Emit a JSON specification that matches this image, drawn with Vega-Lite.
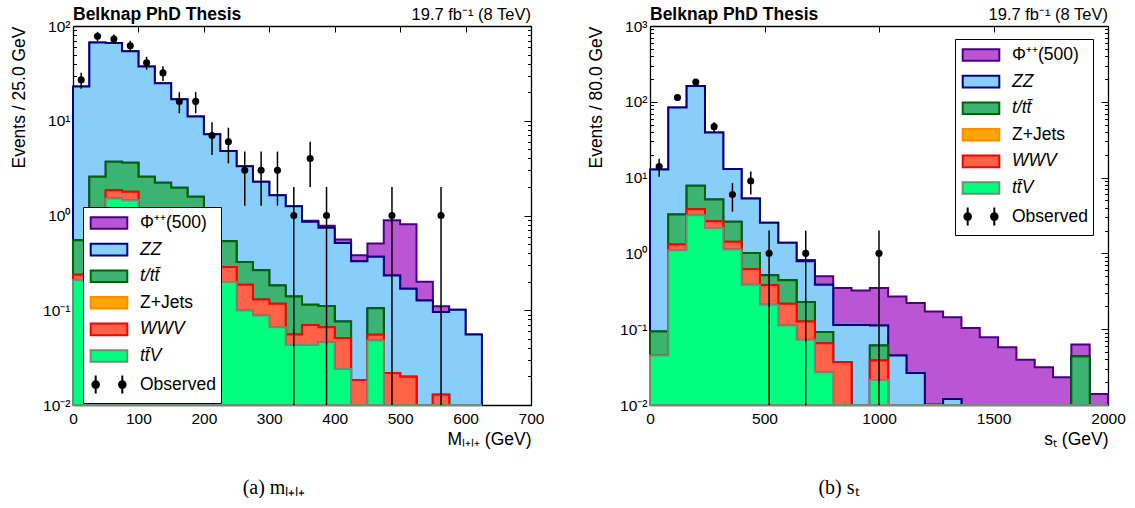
{
  "$schema": "https://vega.github.io/schema/vega-lite/v6.json",
  "background": "white",
  "padding": {"left": 10, "top": 6, "right": 0, "bottom": 0},
  "autosize": {"type": "pad"},
  "spacing": 119,
  "bounds": "flush",
  "config": {
    "view": {"stroke": null},
    "font": "Liberation Sans",
    "axis": {"domainColor": "black", "domainWidth": 1.3, "tickColor": "black", "tickWidth": 1, "labelColor": "black", "labelFont": "Liberation Sans", "labelFontSize": 15.5, "titleFont": "Liberation Sans", "titleFontSize": 17.5, "titleFontWeight": "normal", "titleColor": "black", "grid": false, "zindex": 1, "labelOverlap": false, "labelFlush": false}
  },
  "resolve": {"scale": {"fill": "independent", "stroke": "independent", "shape": "independent"}, "legend": {"fill": "independent", "stroke": "independent", "shape": "independent"}},
  "datasets": {
    "a_mc": [
      {"p":"ttv","lo":0,"hi":25,"v":0.207},{"p":"ttv","lo":25,"hi":50,"v":0.5},{"p":"ttv","lo":50,"hi":75,"v":1.51},{"p":"ttv","lo":75,"hi":100,"v":1.45},{"p":"ttv","lo":100,"hi":125,"v":0.65},{"p":"ttv","lo":125,"hi":150,"v":0.55},{"p":"ttv","lo":150,"hi":175,"v":0.45},{"p":"ttv","lo":175,"hi":200,"v":0.4},{"p":"ttv","lo":200,"hi":225,"v":0.3},{"p":"ttv","lo":225,"hi":250,"v":0.199},{"p":"ttv","lo":250,"hi":275,"v":0.0996},{"p":"ttv","lo":275,"hi":300,"v":0.088},{"p":"ttv","lo":300,"hi":325,"v":0.066},{"p":"ttv","lo":325,"hi":350,"v":0.043},{"p":"ttv","lo":350,"hi":375,"v":0.043},{"p":"ttv","lo":375,"hi":400,"v":0.046},{"p":"ttv","lo":400,"hi":425,"v":0.024},{"p":"ttv","lo":425,"hi":450,"v":0},{"p":"ttv","lo":450,"hi":475,"v":0.048},{"p":"ttv","lo":475,"hi":500,"v":0},{"p":"ttv","lo":500,"hi":525,"v":0},{"p":"ttv","lo":525,"hi":550,"v":0},{"p":"ttv","lo":550,"hi":575,"v":0},{"p":"ttv","lo":575,"hi":600,"v":0},{"p":"ttv","lo":600,"hi":625,"v":0},
      {"p":"wwv","lo":0,"hi":25,"v":0.03},{"p":"wwv","lo":25,"hi":50,"v":0.1},{"p":"wwv","lo":50,"hi":75,"v":0.34},{"p":"wwv","lo":75,"hi":100,"v":0.33},{"p":"wwv","lo":100,"hi":125,"v":0.08},{"p":"wwv","lo":125,"hi":150,"v":0.1},{"p":"wwv","lo":150,"hi":175,"v":0.1},{"p":"wwv","lo":175,"hi":200,"v":0.1},{"p":"wwv","lo":200,"hi":225,"v":0.08},{"p":"wwv","lo":225,"hi":250,"v":0.087},{"p":"wwv","lo":250,"hi":275,"v":0.0864},{"p":"wwv","lo":275,"hi":300,"v":0.042},{"p":"wwv","lo":300,"hi":325,"v":0.051},{"p":"wwv","lo":325,"hi":350,"v":0.0125},{"p":"wwv","lo":350,"hi":375,"v":0.027},{"p":"wwv","lo":375,"hi":400,"v":0.02},{"p":"wwv","lo":400,"hi":425,"v":0.027},{"p":"wwv","lo":425,"hi":450,"v":0.0184},{"p":"wwv","lo":450,"hi":475,"v":0.007},{"p":"wwv","lo":475,"hi":500,"v":0.0218},{"p":"wwv","lo":500,"hi":525,"v":0.0199},{"p":"wwv","lo":525,"hi":550,"v":0},{"p":"wwv","lo":550,"hi":575,"v":0.0128},{"p":"wwv","lo":575,"hi":600,"v":0},{"p":"wwv","lo":600,"hi":625,"v":0},
      {"p":"tt","lo":0,"hi":25,"v":0.311},{"p":"tt","lo":25,"hi":50,"v":1.97},{"p":"tt","lo":50,"hi":75,"v":1.85},{"p":"tt","lo":75,"hi":100,"v":1.83},{"p":"tt","lo":100,"hi":125,"v":1.84},{"p":"tt","lo":125,"hi":150,"v":1.57},{"p":"tt","lo":150,"hi":175,"v":1.41},{"p":"tt","lo":175,"hi":200,"v":1.08},{"p":"tt","lo":200,"hi":225,"v":0.52},{"p":"tt","lo":225,"hi":250,"v":0.249},{"p":"tt","lo":250,"hi":275,"v":0.138},{"p":"tt","lo":275,"hi":300,"v":0.134},{"p":"tt","lo":300,"hi":325,"v":0.066},{"p":"tt","lo":325,"hi":350,"v":0.0845},{"p":"tt","lo":350,"hi":375,"v":0.044},{"p":"tt","lo":375,"hi":400,"v":0.045},{"p":"tt","lo":400,"hi":425,"v":0.025},{"p":"tt","lo":425,"hi":450,"v":0},{"p":"tt","lo":450,"hi":475,"v":0.05},{"p":"tt","lo":475,"hi":500,"v":0},{"p":"tt","lo":500,"hi":525,"v":0},{"p":"tt","lo":525,"hi":550,"v":0},{"p":"tt","lo":550,"hi":575,"v":0},{"p":"tt","lo":575,"hi":600,"v":0},{"p":"tt","lo":600,"hi":625,"v":0},
      {"p":"zz","lo":0,"hi":25,"v":22.45},{"p":"zz","lo":25,"hi":50,"v":64.4},{"p":"zz","lo":50,"hi":75,"v":62.3},{"p":"zz","lo":75,"hi":100,"v":50.4},{"p":"zz","lo":100,"hi":125,"v":34.8},{"p":"zz","lo":125,"hi":150,"v":22.7},{"p":"zz","lo":150,"hi":175,"v":14.9},{"p":"zz","lo":175,"hi":200,"v":9.52},{"p":"zz","lo":200,"hi":225,"v":6.3},{"p":"zz","lo":225,"hi":250,"v":4.265},{"p":"zz","lo":250,"hi":275,"v":2.976},{"p":"zz","lo":275,"hi":300,"v":2.006},{"p":"zz","lo":300,"hi":325,"v":1.457},{"p":"zz","lo":325,"hi":350,"v":1.11},{"p":"zz","lo":350,"hi":375,"v":0.743},{"p":"zz","lo":375,"hi":400,"v":0.63},{"p":"zz","lo":400,"hi":425,"v":0.438},{"p":"zz","lo":425,"hi":450,"v":0.3106},{"p":"zz","lo":450,"hi":475,"v":0.261},{"p":"zz","lo":475,"hi":500,"v":0.211},{"p":"zz","lo":500,"hi":525,"v":0.149},{"p":"zz","lo":525,"hi":550,"v":0.127},{"p":"zz","lo":550,"hi":575,"v":0.0829},{"p":"zz","lo":575,"hi":600,"v":0.101},{"p":"zz","lo":600,"hi":625,"v":0.0555},
      {"p":"phi","lo":0,"hi":25,"v":0},{"p":"phi","lo":25,"hi":50,"v":0},{"p":"phi","lo":50,"hi":75,"v":0},{"p":"phi","lo":75,"hi":100,"v":0},{"p":"phi","lo":100,"hi":125,"v":0},{"p":"phi","lo":125,"hi":150,"v":0},{"p":"phi","lo":150,"hi":175,"v":0},{"p":"phi","lo":175,"hi":200,"v":0},{"p":"phi","lo":200,"hi":225,"v":0},{"p":"phi","lo":225,"hi":250,"v":0},{"p":"phi","lo":250,"hi":275,"v":0},{"p":"phi","lo":275,"hi":300,"v":0},{"p":"phi","lo":300,"hi":325,"v":0},{"p":"phi","lo":325,"hi":350,"v":0},{"p":"phi","lo":350,"hi":375,"v":0.023},{"p":"phi","lo":375,"hi":400,"v":0.037},{"p":"phi","lo":400,"hi":425,"v":0.043},{"p":"phi","lo":425,"hi":450,"v":0.051},{"p":"phi","lo":450,"hi":475,"v":0.139},{"p":"phi","lo":475,"hi":500,"v":0.66},{"p":"phi","lo":500,"hi":525,"v":0.641},{"p":"phi","lo":525,"hi":550,"v":0.073},{"p":"phi","lo":550,"hi":575,"v":0.0143},{"p":"phi","lo":575,"hi":600,"v":0},{"p":"phi","lo":600,"hi":625,"v":0}
    ],
    "a_obs": [
      {"x":12.5,"n":27,"lo":21.8,"hi":32.2},{"x":37.5,"n":78,"lo":69.2,"hi":86.8},{"x":62.5,"n":73,"lo":64.5,"hi":81.5},{"x":87.5,"n":62,"lo":54.1,"hi":69.9},{"x":112.5,"n":41,"lo":34.6,"hi":47.4},{"x":137.5,"n":32,"lo":26.3,"hi":37.7},{"x":162.5,"n":16,"lo":12,"hi":20},{"x":187.5,"n":16,"lo":12,"hi":20},{"x":212.5,"n":7,"lo":4.35,"hi":9.65},{"x":237.5,"n":6,"lo":3.55,"hi":8.45},{"x":262.5,"n":3,"lo":1.27,"hi":4.73},{"x":287.5,"n":3,"lo":1.27,"hi":4.73},{"x":312.5,"n":3,"lo":1.27,"hi":4.73},{"x":337.5,"n":1,"lo":0,"hi":2},{"x":362.5,"n":4,"lo":2,"hi":6},{"x":387.5,"n":1,"lo":0,"hi":2},{"x":487.5,"n":1,"lo":0,"hi":2},{"x":562.5,"n":1,"lo":0,"hi":2}
    ],
    "b_mc": [
      {"p":"ttv","lo":0,"hi":80,"v":0.045},{"p":"ttv","lo":80,"hi":160,"v":1.1},{"p":"ttv","lo":160,"hi":240,"v":3.19},{"p":"ttv","lo":240,"hi":320,"v":2.17},{"p":"ttv","lo":320,"hi":400,"v":1.13},{"p":"ttv","lo":400,"hi":480,"v":0.387},{"p":"ttv","lo":480,"hi":560,"v":0.21},{"p":"ttv","lo":560,"hi":640,"v":0.112},{"p":"ttv","lo":640,"hi":720,"v":0.0724},{"p":"ttv","lo":720,"hi":800,"v":0.027},{"p":"ttv","lo":800,"hi":880,"v":0},{"p":"ttv","lo":880,"hi":960,"v":0},{"p":"ttv","lo":960,"hi":1040,"v":0.0214},{"p":"ttv","lo":1040,"hi":1120,"v":0},{"p":"ttv","lo":1120,"hi":1200,"v":0},{"p":"ttv","lo":1200,"hi":1280,"v":0},{"p":"ttv","lo":1280,"hi":1360,"v":0},{"p":"ttv","lo":1360,"hi":1440,"v":0},{"p":"ttv","lo":1440,"hi":1520,"v":0},{"p":"ttv","lo":1520,"hi":1600,"v":0},{"p":"ttv","lo":1600,"hi":1680,"v":0},{"p":"ttv","lo":1680,"hi":1760,"v":0},{"p":"ttv","lo":1760,"hi":1840,"v":0},{"p":"ttv","lo":1840,"hi":1920,"v":0},{"p":"ttv","lo":1920,"hi":2000,"v":0},
      {"p":"wwv","lo":0,"hi":80,"v":0},{"p":"wwv","lo":80,"hi":160,"v":0.21},{"p":"wwv","lo":160,"hi":240,"v":0.64},{"p":"wwv","lo":240,"hi":320,"v":0.49},{"p":"wwv","lo":320,"hi":400,"v":0.29},{"p":"wwv","lo":400,"hi":480,"v":0.229},{"p":"wwv","lo":480,"hi":560,"v":0.169},{"p":"wwv","lo":560,"hi":640,"v":0.105},{"p":"wwv","lo":640,"hi":720,"v":0.0536},{"p":"wwv","lo":720,"hi":800,"v":0.0385},{"p":"wwv","lo":800,"hi":880,"v":0.037},{"p":"wwv","lo":880,"hi":960,"v":0},{"p":"wwv","lo":960,"hi":1040,"v":0.0172},{"p":"wwv","lo":1040,"hi":1120,"v":0},{"p":"wwv","lo":1120,"hi":1200,"v":0},{"p":"wwv","lo":1200,"hi":1280,"v":0},{"p":"wwv","lo":1280,"hi":1360,"v":0},{"p":"wwv","lo":1360,"hi":1440,"v":0},{"p":"wwv","lo":1440,"hi":1520,"v":0},{"p":"wwv","lo":1520,"hi":1600,"v":0},{"p":"wwv","lo":1600,"hi":1680,"v":0},{"p":"wwv","lo":1680,"hi":1760,"v":0},{"p":"wwv","lo":1760,"hi":1840,"v":0},{"p":"wwv","lo":1840,"hi":1920,"v":0},{"p":"wwv","lo":1920,"hi":2000,"v":0},
      {"p":"tt","lo":0,"hi":80,"v":0.048},{"p":"tt","lo":80,"hi":160,"v":1.96},{"p":"tt","lo":160,"hi":240,"v":3.97},{"p":"tt","lo":240,"hi":320,"v":2.49},{"p":"tt","lo":320,"hi":400,"v":1.19},{"p":"tt","lo":400,"hi":480,"v":0.394},{"p":"tt","lo":480,"hi":560,"v":0.135},{"p":"tt","lo":560,"hi":640,"v":0.224},{"p":"tt","lo":640,"hi":720,"v":0.102},{"p":"tt","lo":720,"hi":800,"v":0.026},{"p":"tt","lo":800,"hi":880,"v":0},{"p":"tt","lo":880,"hi":960,"v":0},{"p":"tt","lo":960,"hi":1040,"v":0.0224},{"p":"tt","lo":1040,"hi":1120,"v":0},{"p":"tt","lo":1120,"hi":1200,"v":0},{"p":"tt","lo":1200,"hi":1280,"v":0},{"p":"tt","lo":1280,"hi":1360,"v":0},{"p":"tt","lo":1360,"hi":1440,"v":0},{"p":"tt","lo":1440,"hi":1520,"v":0},{"p":"tt","lo":1520,"hi":1600,"v":0},{"p":"tt","lo":1600,"hi":1680,"v":0},{"p":"tt","lo":1680,"hi":1760,"v":0},{"p":"tt","lo":1760,"hi":1840,"v":0},{"p":"tt","lo":1840,"hi":1920,"v":0.0435},{"p":"tt","lo":1920,"hi":2000,"v":0},
      {"p":"zz","lo":0,"hi":80,"v":12.7},{"p":"zz","lo":80,"hi":160,"v":80.7},{"p":"zz","lo":160,"hi":240,"v":154.2},{"p":"zz","lo":240,"hi":320,"v":34.15},{"p":"zz","lo":320,"hi":400,"v":10.39},{"p":"zz","lo":400,"hi":480,"v":4.29},{"p":"zz","lo":480,"hi":560,"v":2.016},{"p":"zz","lo":560,"hi":640,"v":0.939},{"p":"zz","lo":640,"hi":720,"v":0.559},{"p":"zz","lo":720,"hi":800,"v":0.2955},{"p":"zz","lo":800,"hi":880,"v":0.077},{"p":"zz","lo":880,"hi":960,"v":0.114},{"p":"zz","lo":960,"hi":1040,"v":0.051},{"p":"zz","lo":1040,"hi":1120,"v":0.045},{"p":"zz","lo":1120,"hi":1200,"v":0.0265},{"p":"zz","lo":1200,"hi":1280,"v":0.0101},{"p":"zz","lo":1280,"hi":1360,"v":0.012},{"p":"zz","lo":1360,"hi":1440,"v":0},{"p":"zz","lo":1440,"hi":1520,"v":0},{"p":"zz","lo":1520,"hi":1600,"v":0},{"p":"zz","lo":1600,"hi":1680,"v":0},{"p":"zz","lo":1680,"hi":1760,"v":0},{"p":"zz","lo":1760,"hi":1840,"v":0},{"p":"zz","lo":1840,"hi":1920,"v":0},{"p":"zz","lo":1920,"hi":2000,"v":0},
      {"p":"phi","lo":0,"hi":80,"v":0},{"p":"phi","lo":80,"hi":160,"v":0},{"p":"phi","lo":160,"hi":240,"v":0},{"p":"phi","lo":240,"hi":320,"v":0},{"p":"phi","lo":320,"hi":400,"v":0},{"p":"phi","lo":400,"hi":480,"v":0},{"p":"phi","lo":480,"hi":560,"v":0},{"p":"phi","lo":560,"hi":640,"v":0.005},{"p":"phi","lo":640,"hi":720,"v":0.033},{"p":"phi","lo":720,"hi":800,"v":0.111},{"p":"phi","lo":800,"hi":880,"v":0.235},{"p":"phi","lo":880,"hi":960,"v":0.211},{"p":"phi","lo":960,"hi":1040,"v":0.238},{"p":"phi","lo":1040,"hi":1120,"v":0.226},{"p":"phi","lo":1120,"hi":1200,"v":0.1945},{"p":"phi","lo":1200,"hi":1280,"v":0.161},{"p":"phi","lo":1280,"hi":1360,"v":0.132},{"p":"phi","lo":1360,"hi":1440,"v":0.104},{"p":"phi","lo":1440,"hi":1520,"v":0.0785},{"p":"phi","lo":1520,"hi":1600,"v":0.058},{"p":"phi","lo":1600,"hi":1680,"v":0.0394},{"p":"phi","lo":1680,"hi":1760,"v":0.0315},{"p":"phi","lo":1760,"hi":1840,"v":0.0232},{"p":"phi","lo":1840,"hi":1920,"v":0.0193},{"p":"phi","lo":1920,"hi":2000,"v":0.014}
    ],
    "b_obs": [
      {"x":40,"n":14,"lo":10.26,"hi":17.74},{"x":120,"n":114,"lo":103.3,"hi":124.7},{"x":200,"n":182,"lo":168.5,"hi":195.5},{"x":280,"n":47,"lo":40.1,"hi":53.9},{"x":360,"n":6,"lo":3.55,"hi":8.45},{"x":440,"n":9,"lo":6,"hi":12},{"x":520,"n":1,"lo":0,"hi":2},{"x":680,"n":1,"lo":0,"hi":2},{"x":1000,"n":1,"lo":0,"hi":2}
    ]
  },
  "hconcat": [
    {
      "width": 458, "height": 379,
      "data": {"name": "a_mc"},
      "transform": [
        {"stack": "v", "groupby": ["lo"], "as": ["y0", "y1"]},
        {"fold": ["lo", "hi"], "as": ["edge", "xe"]}
      ],
      "resolve": {"axis": {"x": "independent", "y": "independent"}},
      "title": {"text": "(a)  mₗ₊ₗ₊", "orient": "bottom", "anchor": "middle", "font": "Liberation Serif", "fontSize": 20, "fontWeight": "normal", "color": "black", "dx": -28, "offset": 30},
      "layer": [
        {
          "transform": [{"filter": "datum.p === 'phi'"}],
          "mark": {"type": "area", "fill": "#BA55D3", "stroke": "#4B0082", "strokeWidth": 2, "strokeJoin": "miter", "opacity": 1},
          "encoding": {
            "x": {"field": "xe", "type": "quantitative", "scale": {"domain": [0, 700], "nice": false, "zero": false},
                  "axis": {"orient": "bottom", "values": [0,100,200,300,400,500,600,700], "format": "d", "tickSize": -6, "labelPadding": 12, "title": "Mₗ₊ₗ₊ (GeV)", "titleAnchor": "end", "titlePadding": 4}},
            "y": {"field": "y1", "type": "quantitative", "scale": {"type": "log", "domain": [0.01, 100], "nice": false, "clamp": true},
                  "axis": {"orient": "left", "values": [0.01,0.02,0.03,0.04,0.05,0.06,0.07,0.08,0.09,0.1,0.2,0.3,0.4,0.5,0.6,0.7,0.8,0.9,1,2,3,4,5,6,7,8,9,10,20,30,40,50,60,70,80,90,100],
                           "labelExpr": "datum.value == 1000 ? '10³' : datum.value == 100 ? '10²' : datum.value == 10 ? '10¹' : datum.value == 1 ? '10⁰' : datum.value == 0.1 ? '10⁻¹' : datum.value == 0.01 ? '10⁻²' : ''",
                           "tickSize": {"condition": {"test": "indexof([0.01,0.1,1,10,100,1000], datum.value) >= 0", "value": -7}, "value": -3.5},
                           "labelPadding": 10, "title": "Events / 25.0 GeV", "titleAnchor": "end", "titlePadding": 14}},
            "y2": {"field": "y0"},
            "order": [{"field": "xe", "type": "quantitative"}, {"field": "edge", "type": "nominal"}]
          }
        },
        {
          "transform": [{"filter": "datum.p === 'zz'"}],
          "mark": {"type": "area", "fill": "#87CEFA", "stroke": "#000080", "strokeWidth": 2, "strokeJoin": "miter", "opacity": 1},
          "encoding": {"x": {"field": "xe", "type": "quantitative", "axis": null}, "y": {"field": "y1", "type": "quantitative", "axis": null}, "y2": {"field": "y0"}, "order": [{"field": "xe", "type": "quantitative"}, {"field": "edge", "type": "nominal"}]}
        },
        {
          "transform": [{"filter": "datum.p === 'tt'"}],
          "mark": {"type": "area", "fill": "#3CB371", "stroke": "#006400", "strokeWidth": 2, "strokeJoin": "miter", "opacity": 1},
          "encoding": {"x": {"field": "xe", "type": "quantitative", "axis": null}, "y": {"field": "y1", "type": "quantitative", "axis": null}, "y2": {"field": "y0"}, "order": [{"field": "xe", "type": "quantitative"}, {"field": "edge", "type": "nominal"}]}
        },
        {
          "transform": [{"filter": "datum.p === 'wwv'"}],
          "mark": {"type": "area", "fill": "#FF6347", "stroke": "#FF0000", "strokeWidth": 2, "strokeJoin": "miter", "opacity": 1},
          "encoding": {"x": {"field": "xe", "type": "quantitative", "axis": null}, "y": {"field": "y1", "type": "quantitative", "axis": null}, "y2": {"field": "y0"}, "order": [{"field": "xe", "type": "quantitative"}, {"field": "edge", "type": "nominal"}]}
        },
        {
          "transform": [{"filter": "datum.p === 'ttv'"}],
          "mark": {"type": "area", "fill": "#00FF7F", "stroke": "#6F8F74", "strokeWidth": 2, "strokeJoin": "miter", "opacity": 1},
          "encoding": {"x": {"field": "xe", "type": "quantitative", "axis": null}, "y": {"field": "y1", "type": "quantitative", "axis": null}, "y2": {"field": "y0"}, "order": [{"field": "xe", "type": "quantitative"}, {"field": "edge", "type": "nominal"}]}
        },
        {
          "data": {"name": "a_obs"},
          "mark": {"type": "rule", "color": "black", "strokeWidth": 1.5},
          "encoding": {"x": {"field": "x", "type": "quantitative", "axis": null}, "y": {"field": "lo", "type": "quantitative", "axis": null}, "y2": {"field": "hi"}}
        },
        {
          "data": {"name": "a_obs"},
          "mark": {"type": "point", "filled": true, "color": "black", "size": 50, "opacity": 1},
          "encoding": {"x": {"field": "x", "type": "quantitative", "axis": null}, "y": {"field": "n", "type": "quantitative", "axis": null}}
        },
        {
          "mark": {"type": "point", "filled": true, "strokeWidth": 2, "opacity": 1},
          "encoding": {
            "x": {"field": "none", "type": "quantitative", "axis": {"orient": "top", "values": [0,100,200,300,400,500,600,700], "labels": false, "tickSize": -6, "title": null}},
            "y": {"field": "none", "type": "quantitative", "axis": {"orient": "right", "values": [0.01,0.02,0.03,0.04,0.05,0.06,0.07,0.08,0.09,0.1,0.2,0.3,0.4,0.5,0.6,0.7,0.8,0.9,1,2,3,4,5,6,7,8,9,10,20,30,40,50,60,70,80,90,100], "labels": false, "tickSize": {"condition": {"test": "indexof([0.01,0.1,1,10,100,1000], datum.value) >= 0", "value": -7}, "value": -3.5}, "title": null}},
            "fill": {"field": "p", "type": "nominal", "scale": {"domain": ["phi","zz","tt","zj","wwv","ttv","obs"], "range": ["#BA55D3","#87CEFA","#3CB371","#FFA500","#FF6347","#00FF7F","#000000"]},
                     "legend": {"title": null, "orient": "none", "legendX": 10, "legendY": 181, "padding": 5, "fillColor": "white", "strokeColor": "black", "cornerRadius": 0, "symbolSize": 400, "symbolOffset": 10, "labelOffset": 20, "rowPadding": 5.6, "labelFont": "Liberation Sans", "labelFontSize": 17.5, "labelColor": "black", "labelLimit": 300, "symbolStrokeWidth": 2,
                                "labelExpr": "datum.value == 'phi' ? 'Φ⁺⁺(500)' : datum.value == 'zz' ? 'ZZ' : datum.value == 'tt' ? 't/tt̄' : datum.value == 'zj' ? 'Z+Jets' : datum.value == 'wwv' ? 'WWV' : datum.value == 'ttv' ? 'tt̄V' : 'Observed'",
                                "encoding": {"labels": {"fontStyle": {"condition": {"test": "indexof(['zz','tt','wwv','ttv'], datum.value) >= 0", "value": "italic"}, "value": "normal"}}}}},
            "stroke": {"field": "p", "type": "nominal", "scale": {"domain": ["phi","zz","tt","zj","wwv","ttv","obs"], "range": ["#4B0082","#000080","#006400","#FF8C00","#FF0000","#6F8F74","#000000"]},
                     "legend": {"title": null, "orient": "none", "legendX": 10, "legendY": 181, "padding": 5, "fillColor": "white", "strokeColor": "black", "cornerRadius": 0, "symbolSize": 400, "symbolOffset": 10, "labelOffset": 20, "rowPadding": 5.6, "labelFont": "Liberation Sans", "labelFontSize": 17.5, "labelColor": "black", "labelLimit": 300, "symbolStrokeWidth": 2,
                                "labelExpr": "datum.value == 'phi' ? 'Φ⁺⁺(500)' : datum.value == 'zz' ? 'ZZ' : datum.value == 'tt' ? 't/tt̄' : datum.value == 'zj' ? 'Z+Jets' : datum.value == 'wwv' ? 'WWV' : datum.value == 'ttv' ? 'tt̄V' : 'Observed'",
                                "encoding": {"labels": {"fontStyle": {"condition": {"test": "indexof(['zz','tt','wwv','ttv'], datum.value) >= 0", "value": "italic"}, "value": "normal"}}}}},
            "shape": {"field": "p", "type": "nominal", "scale": {"domain": ["phi","zz","tt","zj","wwv","ttv","obs"], "range": ["M-1.83,-0.58H1.83V0.58H-1.83Z","M-1.83,-0.58H1.83V0.58H-1.83Z","M-1.83,-0.58H1.83V0.58H-1.83Z","M-1.83,-0.58H1.83V0.58H-1.83Z","M-1.83,-0.58H1.83V0.58H-1.83Z","M-1.83,-0.58H1.83V0.58H-1.83Z","M-1.33,-0.9V0.9M1.33,-0.9V0.9M-1.0,0A0.33,0.33,0,1,1,-1.66,0A0.33,0.33,0,1,1,-1.0,0ZM1.66,0A0.33,0.33,0,1,1,1.0,0A0.33,0.33,0,1,1,1.66,0Z"]},
                     "legend": {"title": null, "orient": "none", "legendX": 10, "legendY": 181, "padding": 5, "fillColor": "white", "strokeColor": "black", "cornerRadius": 0, "symbolSize": 400, "symbolOffset": 10, "labelOffset": 20, "rowPadding": 5.6, "labelFont": "Liberation Sans", "labelFontSize": 17.5, "labelColor": "black", "labelLimit": 300, "symbolStrokeWidth": 2,
                                "labelExpr": "datum.value == 'phi' ? 'Φ⁺⁺(500)' : datum.value == 'zz' ? 'ZZ' : datum.value == 'tt' ? 't/tt̄' : datum.value == 'zj' ? 'Z+Jets' : datum.value == 'wwv' ? 'WWV' : datum.value == 'ttv' ? 'tt̄V' : 'Observed'",
                                "encoding": {"labels": {"fontStyle": {"condition": {"test": "indexof(['zz','tt','wwv','ttv'], datum.value) >= 0", "value": "italic"}, "value": "normal"}}}}}
          }
        },
        {
          "data": {"values": [{"t": "Belknap PhD Thesis"}]},
          "mark": {"type": "text", "align": "left", "baseline": "alphabetic", "dy": -6, "font": "Liberation Sans", "fontSize": 17.5, "fontWeight": "bold", "color": "black"},
          "encoding": {"x": {"datum": 0, "type": "quantitative", "axis": null}, "y": {"datum": 100, "type": "quantitative", "axis": null}, "text": {"field": "t"}}
        },
        {
          "data": {"values": [{"t": "19.7 fb⁻¹ (8 TeV)"}]},
          "mark": {"type": "text", "align": "right", "baseline": "alphabetic", "dy": -6, "font": "Liberation Sans", "fontSize": 16.5, "color": "black"},
          "encoding": {"x": {"datum": 700, "type": "quantitative", "axis": null}, "y": {"datum": 100, "type": "quantitative", "axis": null}, "text": {"field": "t"}}
        }
      ]
    },
    {
      "width": 458, "height": 379,
      "data": {"name": "b_mc"},
      "transform": [
        {"stack": "v", "groupby": ["lo"], "as": ["y0", "y1"]},
        {"fold": ["lo", "hi"], "as": ["edge", "xe"]}
      ],
      "resolve": {"axis": {"x": "independent", "y": "independent"}},
      "title": {"text": "(b)  sₜ", "orient": "bottom", "anchor": "middle", "font": "Liberation Serif", "fontSize": 20, "fontWeight": "normal", "color": "black", "dx": -40, "offset": 30},
      "layer": [
        {
          "transform": [{"filter": "datum.p === 'phi'"}],
          "mark": {"type": "area", "fill": "#BA55D3", "stroke": "#4B0082", "strokeWidth": 2, "strokeJoin": "miter", "opacity": 1},
          "encoding": {
            "x": {"field": "xe", "type": "quantitative", "scale": {"domain": [0, 2000], "nice": false, "zero": false},
                  "axis": {"orient": "bottom", "values": [0,500,1000,1500,2000], "format": "d", "tickSize": -6, "labelPadding": 12, "title": "sₜ (GeV)", "titleAnchor": "end", "titlePadding": 4}},
            "y": {"field": "y1", "type": "quantitative", "scale": {"type": "log", "domain": [0.01, 1000], "nice": false, "clamp": true},
                  "axis": {"orient": "left", "values": [0.01,0.02,0.03,0.04,0.05,0.06,0.07,0.08,0.09,0.1,0.2,0.3,0.4,0.5,0.6,0.7,0.8,0.9,1,2,3,4,5,6,7,8,9,10,20,30,40,50,60,70,80,90,100,200,300,400,500,600,700,800,900,1000],
                           "labelExpr": "datum.value == 1000 ? '10³' : datum.value == 100 ? '10²' : datum.value == 10 ? '10¹' : datum.value == 1 ? '10⁰' : datum.value == 0.1 ? '10⁻¹' : datum.value == 0.01 ? '10⁻²' : ''",
                           "tickSize": {"condition": {"test": "indexof([0.01,0.1,1,10,100,1000], datum.value) >= 0", "value": -7}, "value": -3.5},
                           "labelPadding": 10, "title": "Events / 80.0 GeV", "titleAnchor": "end", "titlePadding": 14}},
            "y2": {"field": "y0"},
            "order": [{"field": "xe", "type": "quantitative"}, {"field": "edge", "type": "nominal"}]
          }
        },
        {
          "transform": [{"filter": "datum.p === 'zz'"}],
          "mark": {"type": "area", "fill": "#87CEFA", "stroke": "#000080", "strokeWidth": 2, "strokeJoin": "miter", "opacity": 1},
          "encoding": {"x": {"field": "xe", "type": "quantitative", "axis": null}, "y": {"field": "y1", "type": "quantitative", "axis": null}, "y2": {"field": "y0"}, "order": [{"field": "xe", "type": "quantitative"}, {"field": "edge", "type": "nominal"}]}
        },
        {
          "transform": [{"filter": "datum.p === 'tt'"}],
          "mark": {"type": "area", "fill": "#3CB371", "stroke": "#006400", "strokeWidth": 2, "strokeJoin": "miter", "opacity": 1},
          "encoding": {"x": {"field": "xe", "type": "quantitative", "axis": null}, "y": {"field": "y1", "type": "quantitative", "axis": null}, "y2": {"field": "y0"}, "order": [{"field": "xe", "type": "quantitative"}, {"field": "edge", "type": "nominal"}]}
        },
        {
          "transform": [{"filter": "datum.p === 'wwv'"}],
          "mark": {"type": "area", "fill": "#FF6347", "stroke": "#FF0000", "strokeWidth": 2, "strokeJoin": "miter", "opacity": 1},
          "encoding": {"x": {"field": "xe", "type": "quantitative", "axis": null}, "y": {"field": "y1", "type": "quantitative", "axis": null}, "y2": {"field": "y0"}, "order": [{"field": "xe", "type": "quantitative"}, {"field": "edge", "type": "nominal"}]}
        },
        {
          "transform": [{"filter": "datum.p === 'ttv'"}],
          "mark": {"type": "area", "fill": "#00FF7F", "stroke": "#6F8F74", "strokeWidth": 2, "strokeJoin": "miter", "opacity": 1},
          "encoding": {"x": {"field": "xe", "type": "quantitative", "axis": null}, "y": {"field": "y1", "type": "quantitative", "axis": null}, "y2": {"field": "y0"}, "order": [{"field": "xe", "type": "quantitative"}, {"field": "edge", "type": "nominal"}]}
        },
        {
          "data": {"name": "b_obs"},
          "mark": {"type": "rule", "color": "black", "strokeWidth": 1.5},
          "encoding": {"x": {"field": "x", "type": "quantitative", "axis": null}, "y": {"field": "lo", "type": "quantitative", "axis": null}, "y2": {"field": "hi"}}
        },
        {
          "data": {"name": "b_obs"},
          "mark": {"type": "point", "filled": true, "color": "black", "size": 50, "opacity": 1},
          "encoding": {"x": {"field": "x", "type": "quantitative", "axis": null}, "y": {"field": "n", "type": "quantitative", "axis": null}}
        },
        {
          "mark": {"type": "point", "filled": true, "strokeWidth": 2, "opacity": 1},
          "encoding": {
            "x": {"field": "none", "type": "quantitative", "axis": {"orient": "top", "values": [0,500,1000,1500,2000], "labels": false, "tickSize": -6, "title": null}},
            "y": {"field": "none", "type": "quantitative", "axis": {"orient": "right", "values": [0.01,0.02,0.03,0.04,0.05,0.06,0.07,0.08,0.09,0.1,0.2,0.3,0.4,0.5,0.6,0.7,0.8,0.9,1,2,3,4,5,6,7,8,9,10,20,30,40,50,60,70,80,90,100,200,300,400,500,600,700,800,900,1000], "labels": false, "tickSize": {"condition": {"test": "indexof([0.01,0.1,1,10,100,1000], datum.value) >= 0", "value": -7}, "value": -3.5}, "title": null}},
            "fill": {"field": "p", "type": "nominal", "scale": {"domain": ["phi","zz","tt","zj","wwv","ttv","obs"], "range": ["#BA55D3","#87CEFA","#3CB371","#FFA500","#FF6347","#00FF7F","#000000"]},
                     "legend": {"title": null, "orient": "none", "legendX": 305, "legendY": 13, "padding": 5, "fillColor": "white", "strokeColor": "black", "cornerRadius": 0, "symbolSize": 400, "symbolOffset": 10, "labelOffset": 20, "rowPadding": 5.6, "labelFont": "Liberation Sans", "labelFontSize": 17.5, "labelColor": "black", "labelLimit": 300, "symbolStrokeWidth": 2,
                                "labelExpr": "datum.value == 'phi' ? 'Φ⁺⁺(500)' : datum.value == 'zz' ? 'ZZ' : datum.value == 'tt' ? 't/tt̄' : datum.value == 'zj' ? 'Z+Jets' : datum.value == 'wwv' ? 'WWV' : datum.value == 'ttv' ? 'tt̄V' : 'Observed'",
                                "encoding": {"labels": {"fontStyle": {"condition": {"test": "indexof(['zz','tt','wwv','ttv'], datum.value) >= 0", "value": "italic"}, "value": "normal"}}}}},
            "stroke": {"field": "p", "type": "nominal", "scale": {"domain": ["phi","zz","tt","zj","wwv","ttv","obs"], "range": ["#4B0082","#000080","#006400","#FF8C00","#FF0000","#6F8F74","#000000"]},
                     "legend": {"title": null, "orient": "none", "legendX": 305, "legendY": 13, "padding": 5, "fillColor": "white", "strokeColor": "black", "cornerRadius": 0, "symbolSize": 400, "symbolOffset": 10, "labelOffset": 20, "rowPadding": 5.6, "labelFont": "Liberation Sans", "labelFontSize": 17.5, "labelColor": "black", "labelLimit": 300, "symbolStrokeWidth": 2,
                                "labelExpr": "datum.value == 'phi' ? 'Φ⁺⁺(500)' : datum.value == 'zz' ? 'ZZ' : datum.value == 'tt' ? 't/tt̄' : datum.value == 'zj' ? 'Z+Jets' : datum.value == 'wwv' ? 'WWV' : datum.value == 'ttv' ? 'tt̄V' : 'Observed'",
                                "encoding": {"labels": {"fontStyle": {"condition": {"test": "indexof(['zz','tt','wwv','ttv'], datum.value) >= 0", "value": "italic"}, "value": "normal"}}}}},
            "shape": {"field": "p", "type": "nominal", "scale": {"domain": ["phi","zz","tt","zj","wwv","ttv","obs"], "range": ["M-1.83,-0.58H1.83V0.58H-1.83Z","M-1.83,-0.58H1.83V0.58H-1.83Z","M-1.83,-0.58H1.83V0.58H-1.83Z","M-1.83,-0.58H1.83V0.58H-1.83Z","M-1.83,-0.58H1.83V0.58H-1.83Z","M-1.83,-0.58H1.83V0.58H-1.83Z","M-1.33,-0.9V0.9M1.33,-0.9V0.9M-1.0,0A0.33,0.33,0,1,1,-1.66,0A0.33,0.33,0,1,1,-1.0,0ZM1.66,0A0.33,0.33,0,1,1,1.0,0A0.33,0.33,0,1,1,1.66,0Z"]},
                     "legend": {"title": null, "orient": "none", "legendX": 305, "legendY": 13, "padding": 5, "fillColor": "white", "strokeColor": "black", "cornerRadius": 0, "symbolSize": 400, "symbolOffset": 10, "labelOffset": 20, "rowPadding": 5.6, "labelFont": "Liberation Sans", "labelFontSize": 17.5, "labelColor": "black", "labelLimit": 300, "symbolStrokeWidth": 2,
                                "labelExpr": "datum.value == 'phi' ? 'Φ⁺⁺(500)' : datum.value == 'zz' ? 'ZZ' : datum.value == 'tt' ? 't/tt̄' : datum.value == 'zj' ? 'Z+Jets' : datum.value == 'wwv' ? 'WWV' : datum.value == 'ttv' ? 'tt̄V' : 'Observed'",
                                "encoding": {"labels": {"fontStyle": {"condition": {"test": "indexof(['zz','tt','wwv','ttv'], datum.value) >= 0", "value": "italic"}, "value": "normal"}}}}}
          }
        },
        {
          "data": {"values": [{"t": "Belknap PhD Thesis"}]},
          "mark": {"type": "text", "align": "left", "baseline": "alphabetic", "dy": -6, "font": "Liberation Sans", "fontSize": 17.5, "fontWeight": "bold", "color": "black"},
          "encoding": {"x": {"datum": 0, "type": "quantitative", "axis": null}, "y": {"datum": 1000, "type": "quantitative", "axis": null}, "text": {"field": "t"}}
        },
        {
          "data": {"values": [{"t": "19.7 fb⁻¹ (8 TeV)"}]},
          "mark": {"type": "text", "align": "right", "baseline": "alphabetic", "dy": -6, "font": "Liberation Sans", "fontSize": 16.5, "color": "black"},
          "encoding": {"x": {"datum": 2000, "type": "quantitative", "axis": null}, "y": {"datum": 1000, "type": "quantitative", "axis": null}, "text": {"field": "t"}}
        }
      ]
    }
  ]
}
